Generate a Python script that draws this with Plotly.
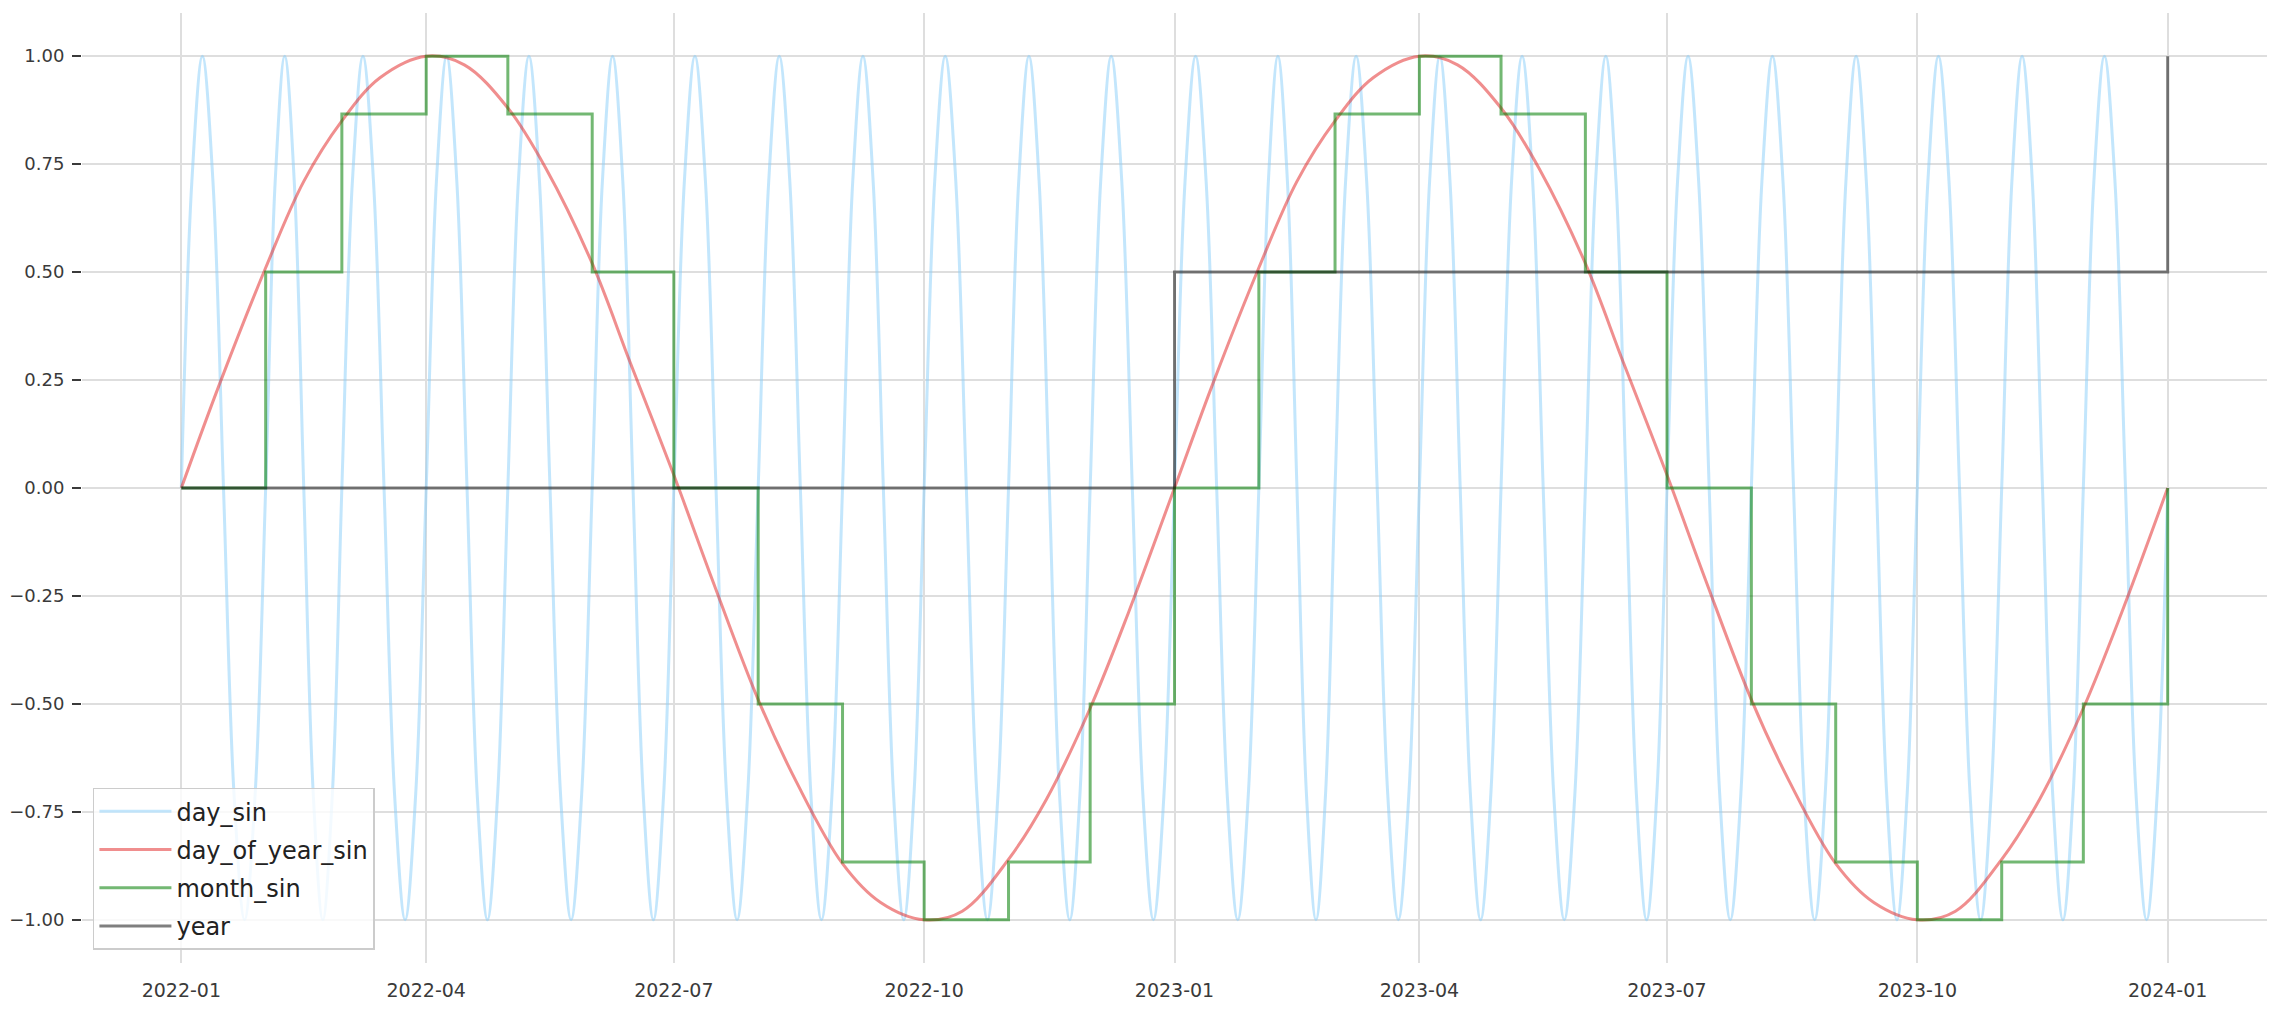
import pandas as pd
import plotly.graph_objects as go

# ---------------- data ----------------
MONTH_STARTS = list(pd.date_range("2022-01-01", "2024-01-01", freq="MS"))  # 25 month starts

# month_sin: one level per month (step line)
MONTH_SIN = [0.0, 0.5, 0.866, 1.0, 0.866, 0.5, 0.0, -0.5, -0.866, -1.0, -0.866, -0.5,
             0.0, 0.5, 0.866, 1.0, 0.866, 0.5, 0.0, -0.5, -0.866, -1.0, -0.866, -0.5,
             0.0]

# year (normalised): one level per calendar year, last point on 2024-01-01
YEAR_DATES = ["2022-01-01", "2023-01-01", "2024-01-01"]
YEAR_VALUES = [0.0, 0.5, 1.0]

# day_of_year_sin: sampled on the 1st and 15th of every month
DOY_DAYS_IN_MONTH = [1, 15]
DOY_SIN = [0.00, 0.24, 0.51, 0.71, 0.85, 0.95, 1.00, 0.98, 0.88, 0.74, 0.52, 0.29,
           0.03, -0.21, -0.49, -0.68, -0.87, -0.96, -1.00, -0.98, -0.86, -0.72, -0.51, -0.29,
           0.00, 0.24, 0.51, 0.71, 0.85, 0.95, 1.00, 0.98, 0.88, 0.74, 0.52, 0.29,
           0.03, -0.21, -0.49, -0.68, -0.87, -0.96, -1.00, -0.98, -0.86, -0.72, -0.51, -0.29,
           0.00]

# day_sin: one full oscillation per month, read at eighths of each month
DAY_SIN_MONTH_FRACTION = [0.0, 0.125, 0.25, 0.375, 0.5, 0.625, 0.75, 0.875]
DAY_SIN_CYCLE = [0.0, 0.71, 1.0, 0.71, 0.0, -0.71, -1.0, -0.71]
DAY_SIN_END = 0.0

TICK_LABELS = ["2022-01", "2022-04", "2022-07", "2022-10", "2023-01", "2023-04",
               "2023-07", "2023-10", "2024-01"]
Y_TICKS = [-1.0, -0.75, -0.5, -0.25, 0.0, 0.25, 0.5, 0.75, 1.0]

# ---------------- build x positions for the sampled series ----------------
day_x, day_y = [], []
for start, nxt in zip(MONTH_STARTS[:-1], MONTH_STARTS[1:]):
    span = nxt - start
    for frac, val in zip(DAY_SIN_MONTH_FRACTION, DAY_SIN_CYCLE):
        day_x.append(start + span * frac)
        day_y.append(val)
day_x.append(MONTH_STARTS[-1])
day_y.append(DAY_SIN_END)

doy_x = []
for start in MONTH_STARTS[:-1]:
    for d in DOY_DAYS_IN_MONTH:
        doy_x.append(start + pd.Timedelta(days=d - 1))
doy_x.append(MONTH_STARTS[-1])

FONT = "DejaVu Sans"
TXT = "#3a3a3a"
LW = 3

fig = go.Figure()
fig.add_trace(go.Scatter(x=day_x, y=day_y, name="day_sin", mode="lines", legendgroup="a",
                         line=dict(color="rgba(135,206,250,0.5)", width=LW, shape="spline")))
fig.add_trace(go.Scatter(x=doy_x, y=DOY_SIN, name="day_of_year_sin", mode="lines", legendgroup="b",
                         line=dict(color="rgba(225,30,30,0.5)", width=LW, shape="spline")))
fig.add_trace(go.Scatter(x=MONTH_STARTS, y=MONTH_SIN, name="month_sin", mode="lines", legendgroup="c",
                         line=dict(color="rgba(0,125,0,0.55)", width=LW, shape="hv")))
fig.add_trace(go.Scatter(x=pd.to_datetime(YEAR_DATES), y=YEAR_VALUES, name="year", mode="lines",
                         legendgroup="d",
                         line=dict(color="rgba(0,0,0,0.5)", width=LW, shape="hv")))

x0 = pd.Timestamp("2022-01-01") - pd.Timedelta(days=36.5)
x1 = pd.Timestamp("2024-01-01") + pd.Timedelta(days=36.5)

fig.update_layout(
    width=2280, height=1016,
    margin=dict(l=74, r=21, t=5, b=61, autoexpand=False),
    paper_bgcolor="white", plot_bgcolor="white",
    font=dict(family=FONT, size=19, color=TXT),
    showlegend=True,
    legend=dict(x=0.005, y=0.014, xanchor="left", yanchor="bottom",
                bgcolor="rgba(255,255,255,0.8)", bordercolor="#cccccc", borderwidth=1.5,
                font=dict(family=FONT, size=24, color="#222222"),
                itemwidth=72, tracegroupgap=4, traceorder="grouped"),
    xaxis=dict(range=[x0, x1], tickvals=pd.to_datetime(TICK_LABELS), ticktext=TICK_LABELS,
               showgrid=True, gridcolor="#dedede", gridwidth=1.5, zeroline=False,
               showline=False, ticks="", ticklabelstandoff=14, automargin=False,
               tickfont=dict(family=FONT, size=19, color=TXT)),
    yaxis=dict(range=[-1.1, 1.1], tickvals=Y_TICKS, tickformat=".2f",
               showgrid=True, gridcolor="#dedede", gridwidth=1.5, zeroline=False,
               showline=False, ticks="outside", ticklen=9, tickwidth=1.5, tickcolor=TXT,
               ticklabelstandoff=4, automargin=False,
               tickfont=dict(family=FONT, size=18, color=TXT)),
)

fig.write_html("out.html")
